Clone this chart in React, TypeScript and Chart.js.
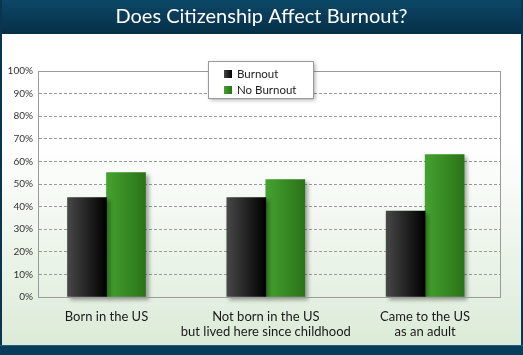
import React, { useEffect, useRef } from 'react';
import { Chart, registerables } from 'chart.js';

Chart.register(...registerables);

const titleText = 'Does Citizenship Affect Burnout?';
const categories: string[][] = [
  ['Born in the US'],
  ['Not born in the US', 'but lived here since childhood'],
  ['Came to the US', 'as an adult'],
];
const seriesNames = ['Burnout', 'No Burnout'];
const burnout = [44, 44, 38];
const noBurnout = [55, 52, 63];
const yTicks = [0, 10, 20, 30, 40, 50, 60, 70, 80, 90, 100];

const FONT = 'Lato, "Open Sans", sans-serif';
const gradStops: string[][] = [
  ['#474747', '#000000'],
  ['#44a22f', '#2a7318'],
];

const framePlugin = {
  id: 'frame',
  beforeDraw(chart: any) {
    const { ctx, width, height } = chart;
    ctx.save();
    const bg = ctx.createLinearGradient(0, 0, 0, height);
    bg.addColorStop(0, '#ffffff');
    bg.addColorStop(0.4, '#ffffff');
    bg.addColorStop(0.97, '#dcebd8');
    ctx.fillStyle = bg;
    ctx.fillRect(0, 0, width, height);
    const tb = ctx.createLinearGradient(0, 0, 0, 34);
    tb.addColorStop(0, '#0c4767');
    tb.addColorStop(1, '#062f48');
    ctx.fillStyle = tb;
    ctx.fillRect(0, 0, width, 34);
    ctx.fillStyle = '#0a3550';
    ctx.fillRect(0, 0, 2, height);
    ctx.fillRect(width - 2, 0, 2, height);
    ctx.fillStyle = '#073c5a';
    ctx.fillRect(0, height - 10, width, 10);
    ctx.fillStyle = '#1f5c7a';
    ctx.fillRect(0, height - 10, width, 1);
    ctx.restore();
  },
  beforeDatasetsDraw(chart: any) {
    const { ctx } = chart;
    chart.data.datasets.forEach((_: any, di: number) => {
      const meta = chart.getDatasetMeta(di);
      meta.data.forEach((el: any) => {
        const { x, width } = el.getProps(['x', 'width'], true);
        const left = x - width / 2;
        const g = ctx.createLinearGradient(left, 0, left + width, 0);
        g.addColorStop(0, gradStops[di][0]);
        g.addColorStop(1, gradStops[di][1]);
        el.options = { ...el.options, backgroundColor: g };
      });
    });
    ctx.save();
    ctx.shadowColor = 'rgba(0,0,0,0.35)';
    ctx.shadowOffsetX = 3;
    ctx.shadowOffsetY = 3;
    ctx.shadowBlur = 4;
  },
  afterDatasetsDraw(chart: any) {
    const { ctx, chartArea: a } = chart;
    ctx.restore();
    ctx.save();
    ctx.strokeStyle = '#9a9a9a';
    ctx.lineWidth = 1;
    ctx.strokeRect(Math.round(a.left) + 0.5, Math.round(a.top) + 0.5, Math.round(a.right - a.left), Math.round(a.bottom - a.top));
    ctx.restore();
  },
  afterDraw(chart: any) {
    const { ctx, chartArea: a } = chart;
    const bx = Math.round(a.left) + 170;
    const by = Math.round(a.top) - 10;
    const bw = 105;
    const bh = 37;
    ctx.save();
    ctx.shadowColor = 'rgba(0,0,0,0.35)';
    ctx.shadowOffsetX = 2;
    ctx.shadowOffsetY = 2;
    ctx.shadowBlur = 4;
    ctx.fillStyle = '#ffffff';
    ctx.fillRect(bx, by, bw, bh);
    ctx.restore();
    ctx.save();
    ctx.strokeStyle = '#9a9a9a';
    ctx.lineWidth = 1;
    ctx.strokeRect(bx + 0.5, by + 0.5, bw, bh);
    ctx.font = `11.5px ${FONT}`;
    ctx.textBaseline = 'middle';
    ctx.fillStyle = '#222';
    seriesNames.forEach((name, i) => {
      const sy = by + 9 + i * 16;
      const g = ctx.createLinearGradient(bx + 16, 0, bx + 24, 0);
      g.addColorStop(0, gradStops[i][0]);
      g.addColorStop(1, gradStops[i][1]);
      ctx.fillStyle = g;
      ctx.fillRect(bx + 16, sy, 8, 8);
      ctx.fillStyle = '#222';
      ctx.fillText(name, bx + 29, sy + 4.5);
    });
    ctx.restore();
  },
};

export default function App() {
  const ref = useRef<HTMLCanvasElement>(null);
  useEffect(() => {
    document.body.style.margin = '0';
    if (!ref.current) return;
    const chart = new Chart(ref.current, {
      type: 'bar',
      data: {
        datasets: [
          {
            label: seriesNames[0],
            data: burnout.map((v, i) => ({ x: i, y: v })),
            backgroundColor: '#222',
            clip: false,
          } as any,
          {
            label: seriesNames[1],
            data: noBurnout.map((v, i) => ({ x: i, y: v })),
            backgroundColor: '#3a8f27',
            clip: false,
          } as any,
        ],
      },
      options: {
        animation: false,
        responsive: true,
        maintainAspectRatio: false,
        barThickness: 39,
        layout: { padding: { left: 0, right: 0, top: 0, bottom: 10 } },
        plugins: {
          legend: { display: false },
          tooltip: { enabled: false },
          title: {
            display: true,
            text: titleText,
            color: '#ffffff',
            font: { family: FONT, size: 20, weight: 'normal' },
            padding: { top: 5, bottom: 42 },
          },
        },
        scales: {
          x: {
            type: 'linear',
            offset: false,
            min: -0.43,
            max: 2.47,
            afterBuildTicks: (s: any) => {
              s.ticks = categories.map((_, i) => ({ value: i }));
            },
            afterFit: (s: any) => {
              s.height = 48;
            },
            grid: { display: false, drawTicks: false, offset: false },
            border: { display: true, color: '#9a9a9a' },
            ticks: {
              autoSkip: false,
              maxRotation: 0,
              padding: 12,
              color: '#1a1a1a',
              font: { family: FONT, size: 13, lineHeight: 1.15 },
              callback: (v: any) => categories[v] ?? '',
            },
          },
          y: {
            min: 0,
            max: 100,
            afterBuildTicks: (s: any) => {
              s.ticks = yTicks.map((v) => ({ value: v }));
            },
            afterFit: (s: any) => {
              s.width = 38;
            },
            grid: { color: '#9a9a9a', drawTicks: false, lineWidth: 1 },
            border: { display: true, color: '#9a9a9a', dash: [3, 2] },
            ticks: {
              padding: 5,
              color: '#333',
              font: { family: FONT, size: 10 },
              callback: (v: any) => `${v}%`,
            },
          },
          yRight: {
            type: 'linear',
            position: 'right',
            min: 0,
            max: 100,
            afterFit: (s: any) => {
              s.width = 23;
            },
            grid: { display: false, drawTicks: false },
            border: { display: false },
            ticks: { display: false },
          },
        },
      } as any,
      plugins: [framePlugin],
    });
    return () => chart.destroy();
  }, []);
  return (
    <div style={{ position: 'relative', width: 523, height: 355 }}>
      <canvas ref={ref} />
    </div>
  );
}
